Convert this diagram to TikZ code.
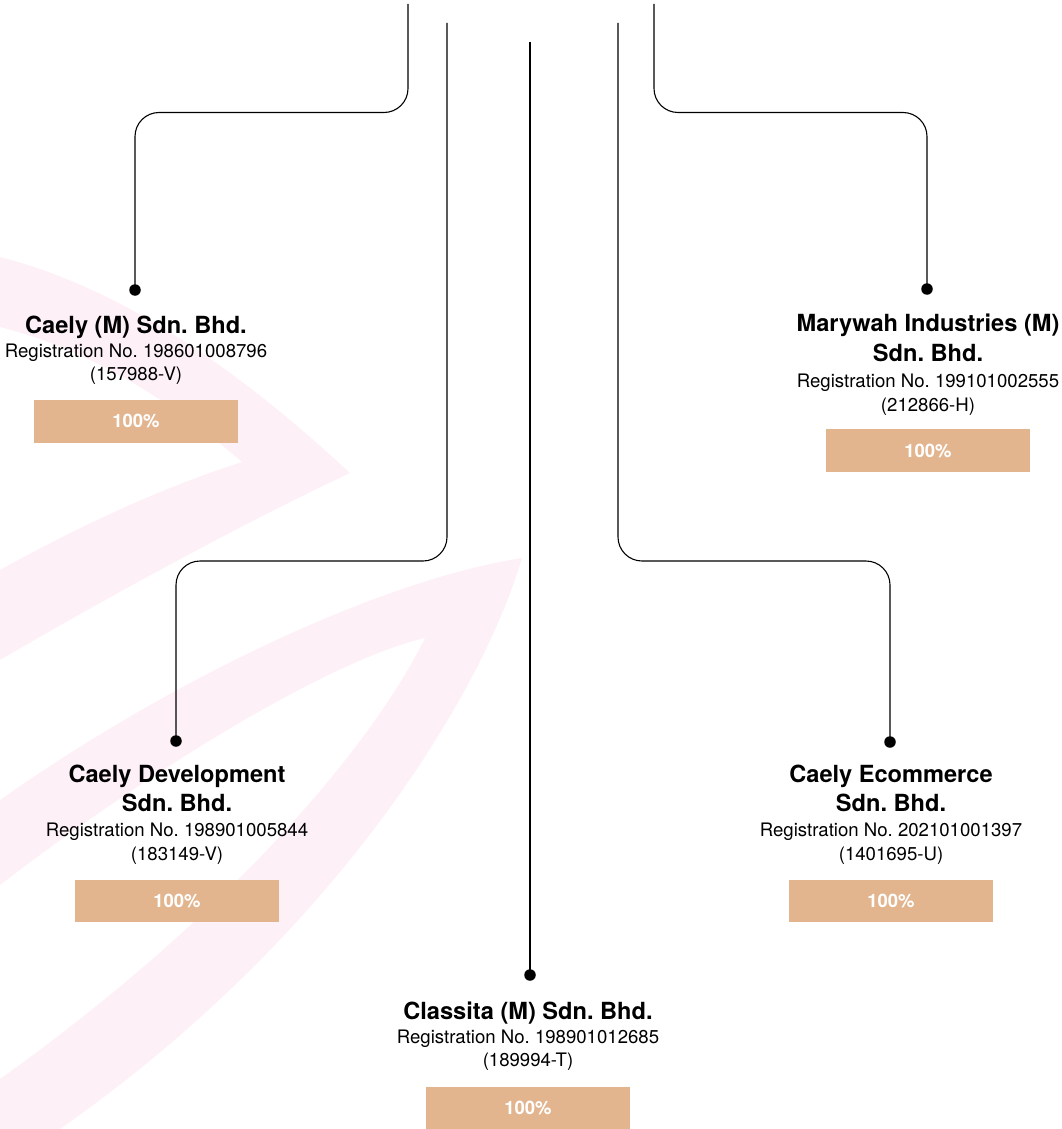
\documentclass[tikz,border=0pt]{standalone}
\usepackage{fontspec}
\setmainfont{TeX Gyre Heros}
\usetikzlibrary{calc}
\definecolor{pinkbg}{RGB}{253,241,247}
\definecolor{tanbox}{RGB}{226,181,143}
\frenchspacing
\begin{document}
\begin{tikzpicture}[x=1pt,y=-1pt,
  conn/.style={line width=1.1pt, rounded corners=24pt},
  dotnode/.style={circle, fill=black, inner sep=0pt, minimum size=11.5pt},
  ttl/.style={font=\fontsize{23.6}{28}\selectfont\bfseries, anchor=base, inner sep=0pt},
  reg/.style={font=\fontsize{18.6}{22}\selectfont, anchor=base, inner sep=0pt},
  pct/.style={fill=tanbox, text=white, minimum width=204pt, minimum height=42.5pt, inner sep=0pt, font=\fontsize{18.5}{22}\selectfont\bfseries}]
\useasboundingbox (0,0) rectangle (1062,1129);
% background chevrons
\fill[pinkbg] (0,257) .. controls (130,290) and (250,380) .. (350,473)
  .. controls (250,520) and (120,590) .. (0,660) -- (0,570)
  .. controls (90,520) and (170,485) .. (242,462)
  .. controls (170,400) and (90,350) .. (0,327) -- cycle;
\fill[pinkbg] (0,800) .. controls (170,680) and (380,580) .. (522,558)
  .. controls (480,700) and (330,940) .. (60,1129) -- (0,1129) -- (0,1079)
  .. controls (250,900) and (380,730) .. (425,638)
  .. controls (330,660) and (150,770) .. (0,885) -- cycle;
% connector starts
\coordinate (s1) at (408,4);
\coordinate (s2) at (447,23);
\coordinate (s3) at (530,42);
\coordinate (s4) at (618,23);
\coordinate (s5) at (654,4);
\coordinate (h1) at (0,112.5);
\coordinate (h2) at (0,561);
% dots
\node[dotnode] (d1) at (135,290) {};
\node[dotnode] (d2) at (176,741) {};
\node[dotnode] (d3) at (530,975) {};
\node[dotnode] (d4) at (927,289) {};
\node[dotnode] (d5) at (890,742) {};
% connectors
\draw[conn] (s1) -- (s1 |- h1) -- (d1 |- h1) -- (d1.center);
\draw[conn] (s2) -- (s2 |- h2) -- (d2 |- h2) -- (d2.center);
\draw[conn] (s3) -- (d3.center);
\draw[conn] (s4) -- (s4 |- h2) -- (d5 |- h2) -- (d5.center);
\draw[conn] (s5) -- (s5 |- h1) -- (d4 |- h1) -- (d4.center);
% Caely (M)
\node[ttl] (t1) at (136,333) {Caely (M) Sdn. Bhd.};
\node[reg] (r1a) at (136,357) {Registration No. 198601008796};
\node[reg] (r1b) at (136,380.5) {(157988-V)};
\node[pct] (p1) at (136,421.3) {100\%};
% Marywah
\node[ttl] (t4a) at (928,331.7) {Marywah Industries (M)};
\node[ttl] (t4b) at (928,361.7) {Sdn. Bhd.};
\node[reg] (r4a) at (928,387) {Registration No. 199101002555};
\node[reg] (r4b) at (928,411) {(212866-H)};
\node[pct] (p4) at (928,450.5) {100\%};
% Caely Development
\node[ttl] (t2a) at (177,782.7) {Caely Development};
\node[ttl] (t2b) at (177,811.7) {Sdn. Bhd.};
\node[reg] (r2a) at (177,836.7) {Registration No. 198901005844};
\node[reg] (r2b) at (177,860.7) {(183149-V)};
\node[pct] (p2) at (177,900.8) {100\%};
% Caely Ecommerce
\node[ttl] (t5a) at (891,782.7) {Caely Ecommerce};
\node[ttl] (t5b) at (891,811.7) {Sdn. Bhd.};
\node[reg] (r5a) at (891,836.7) {Registration No. 202101001397};
\node[reg] (r5b) at (891,860.7) {(1401695-U)};
\node[pct] (p5) at (891,900.8) {100\%};
% Classita
\node[ttl] (t3) at (528,1019.5) {Classita (M) Sdn. Bhd.};
\node[reg] (r3a) at (528,1043) {Registration No. 198901012685};
\node[reg] (r3b) at (528,1066.5) {(189994-T)};
\node[pct] (p3) at (528,1108) {100\%};
\end{tikzpicture}
\end{document}
